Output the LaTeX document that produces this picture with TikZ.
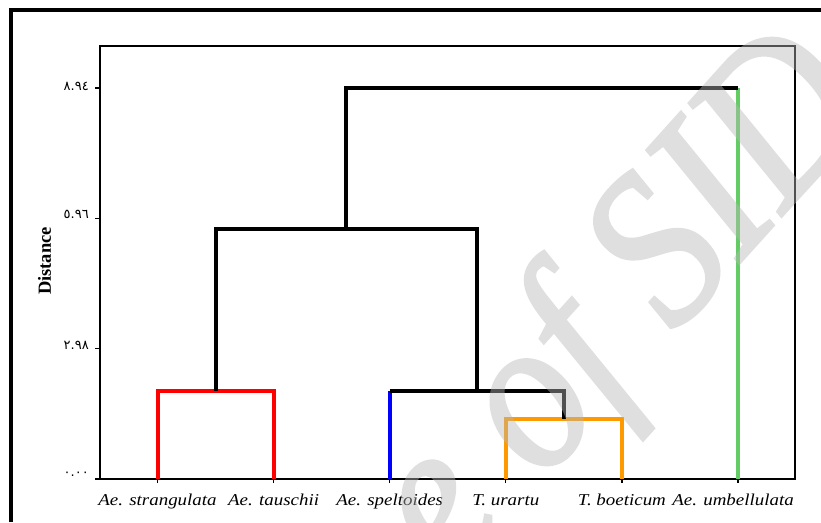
\documentclass[tikz,border=0pt]{standalone}
\usepackage{fontspec}
\setmainfont{Liberation Serif}
\newfontfamily\labfont[FakeStretch=1.14]{Liberation Serif}
\newfontfamily\wmfont[FakeStretch=0.88,FakeBold=1.5]{Liberation Serif}
\newfontfamily\arfont{DejaVu Sans}
\definecolor{cred}{RGB}{255,0,0}
\definecolor{cblue}{RGB}{0,0,255}
\definecolor{corange}{RGB}{255,153,0}
\definecolor{cgreen}{RGB}{100,204,100}
\begin{document}
\begin{tikzpicture}[x=1pt,y=-1pt,
  dendro/.style={line width=4pt, line join=miter},
  frameline/.style={line width=1.3pt},
  tickline/.style={line width=1.2pt},
  leaflab/.style={anchor=base, inner sep=0pt, font=\labfont\itshape\fontsize{16.6}{18}\selectfont},
  ticklab/.style={anchor=base east, inner sep=0pt, font=\arfont\fontsize{13}{14}\selectfont},
  wmark/.style={anchor=base west, inner sep=0pt, rotate=48, text=black!28,
     font=\wmfont\itshape\fontsize{220}{220}\selectfont}]
\useasboundingbox (0,0) rectangle (821,522);
\fill[white] (0,0) rectangle (821,522);
% outer frame
\draw[line width=4pt, line join=miter] (10.5,522) -- (10.5,9.5) -- (821,9.5);
% plot frame
\draw[frameline] (100,46) rectangle (795,479);
% leaves and merges
\coordinate (L1) at (157.5,479);
\coordinate (L2) at (273.6,479);
\coordinate (L3) at (389.7,479);
\coordinate (L4) at (505.8,479);
\coordinate (L5) at (621.9,479);
\coordinate (L6) at (738,479);
\coordinate (M1) at (215.5,391);
\coordinate (M2) at (563.8,419);
\coordinate (M3) at (476.7,391);
\coordinate (M4) at (346.1,229);
\coordinate (M5) at (738,88);
% y ticks
\foreach \n/\y in {a/88,b/218.3,c/348.7,d/479}{
  \coordinate (T\n) at (100,\y);
  \draw[tickline] (T\n) -- ++(-5,0);
}
\node[ticklab] (ya) at (89,90) {٨.٩٤};
\node[ticklab] (yb) at (89,218) {٥.٩٦};
\node[ticklab] (yc) at (89,349) {٢.٩٨};
\node[ticklab] (yd) at (89,476) {٠.٠٠};
\node[rotate=90, inner sep=0pt, font=\bfseries\fontsize{18.5}{20}\selectfont] (ylab) at (44.5,261) {Distance};
% x ticks
\foreach \i in {1,...,6}{ \draw[tickline] (L\i) -- ++(0,4); }
% dendrogram
\draw[dendro, cred] (L1) |- (M1) -| (L2);
\draw[dendro, cblue] (L3) -- (L3 |- M3);
\draw[dendro, corange] (L4) |- (M2) -| (L5);
\draw[dendro, cgreen, line width=3.6pt] (L6) -- (M5);
\draw[dendro] (M1) |- (M4) -| (M3);
\draw[dendro] (L3 |- M3) -| (M2);
\draw[dendro] (M4) |- (M5);
% leaf labels
\node[leaflab] (n1) at (157.5,505) {Ae. strangulata};
\node[leaflab] (n2) at (273.6,505) {Ae. tauschii};
\node[leaflab] (n3) at (389.7,505) {Ae. speltoides};
\node[leaflab] (n4) at (505.8,505) {T. urartu};
\node[leaflab] (n5) at (621.9,505) {T. boeticum};
\node[leaflab] (n6) at (733,505) {Ae. umbellulata};
% watermark
\begin{scope}[transparency group, opacity=0.44]
\clip (0,0) rectangle (821,522);
\node[wmark] (wm) at (452,582) {e of SID};
\end{scope}
\end{tikzpicture}
\end{document}
